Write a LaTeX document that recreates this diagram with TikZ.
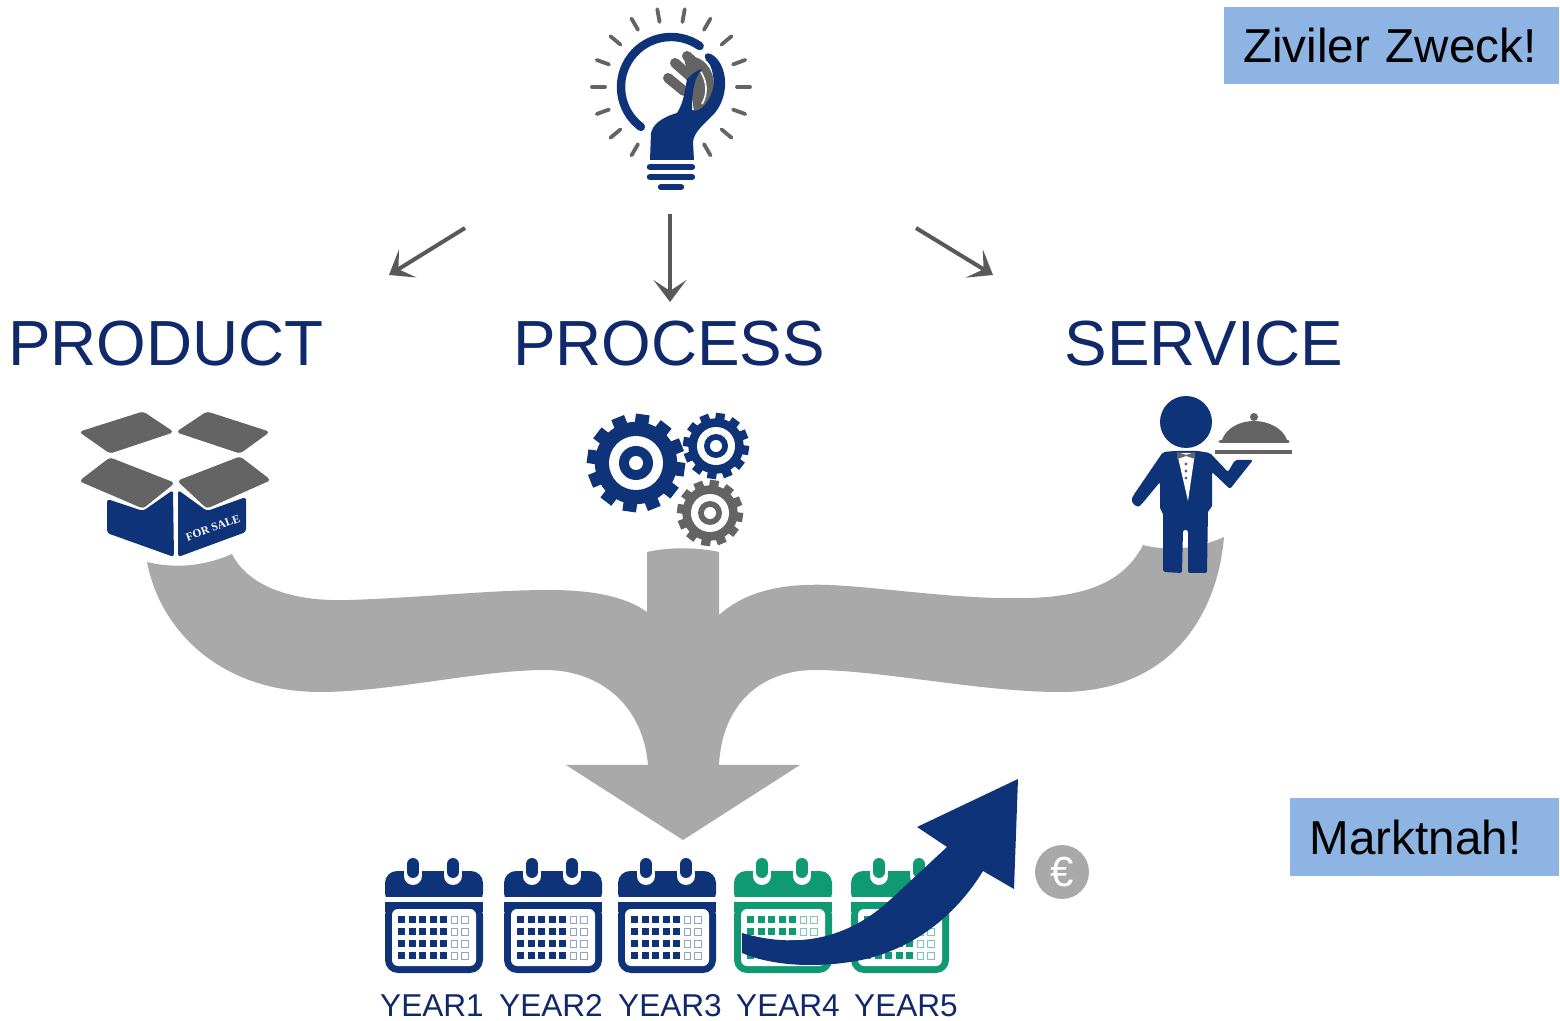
\documentclass[tikz,border=0pt]{standalone}
\usepackage{fontspec}
\setmainfont{Liberation Sans}
\newfontfamily\boxfont{Liberation Serif}
\usetikzlibrary{arrows.meta,calc}
\definecolor{navy}{HTML}{0F3379}
\definecolor{labelblue}{HTML}{10296B}
\definecolor{icongray}{HTML}{646464}
\definecolor{flowgray}{HTML}{A9A9A9}
\definecolor{calgreen}{HTML}{0F9A74}
\definecolor{notefill}{HTML}{8EB4E3}
\definecolor{arrowgray}{HTML}{595959}
\tikzset{
  bigword/.style={text=labelblue,font=\fontsize{31.9}{34}\selectfont,inner sep=0pt,anchor=base},
  yearword/.style={text=labelblue,font=\fontsize{15.8}{18}\selectfont,inner sep=0pt,anchor=base},
  notebox/.style={fill=notefill,text=black,font=\fontsize{23.8}{26}\selectfont,inner sep=0pt,anchor=north west,align=left},
  pointer/.style={draw=arrowgray,line width=2pt,-{Stealth[length=11pt,width=16.5pt,inset=5.5pt]}},
}
% gear: x, y, outer radius, annulus outer, annulus inner, hole, colour, teeth
\newcommand{\gearicon}[8]{%
  \fill[#7] (#1,#2) circle[radius=#3*0.84];
  \pgfmathsetmacro{\gstep}{360/#8}
  \foreach \k in {1,...,#8}{
    \draw[#7,line width=#3*0.14pt] ($(#1,#2)+(\k*\gstep+8:#3*0.7)$) -- ($(#1,#2)+(\k*\gstep+8:#3)$);
  }
  \fill[white] (#1,#2) circle[radius=#4];
  \fill[#7] (#1,#2) circle[radius=#5];
  \fill[white] (#1,#2) circle[radius=#6];
}
% calendar: left x, colour, hollow-square colour
\newcommand{\calicon}[3]{%
  \begin{scope}[shift={(#1,0)}]
    \fill[#2,rounded corners=6pt] (0,905) -- (0,871) -- (98,871) -- (98,905) -- cycle;
    \fill[white] (-1,897) rectangle (99,906);
    \foreach \rx in {28,68}{
      \draw[white,line width=9pt,line cap=round] (\rx,866) -- (\rx,876);
      \draw[#2,line width=6pt,line cap=round] (\rx,864) -- (\rx,872);
    }
    \fill[#2,rounded corners=6.5pt] (0,902) -- (98,902) -- (98,973) -- (0,973) -- cycle;
    \fill[#2] (0,902) rectangle (98,912);
    \fill[white,rounded corners=3pt] (7,909) -- (91,909) -- (91,966) -- (7,966) -- cycle;
    \foreach \r in {0,1,2,3}{
      \foreach \c in {0,...,4}{
        \fill[#2] ({13+\c*10.5},{916+\r*12}) rectangle +(7,7);
      }
      \foreach \c in {5,6}{
        \draw[#3,line width=0.5pt] ({13.5+\c*10.5},{916.5+\r*12}) rectangle +(6.5,6.5);
      }
    }
  \end{scope}
}
\begin{document}
\begin{tikzpicture}[x=0.5pt,y=-0.5pt]
\useasboundingbox (0,0) rectangle (1560,1021);
\fill[white] (0,0) rectangle (1560,1021);

% ---------- flow shape
\fill[flowgray] (147,562) .. controls (175,569) and (205,566) .. (232,554)
  .. controls (250,590) and (300,602) .. (350,600)
  .. controls (430,597) and (490,590) .. (550,590)
  .. controls (590,590) and (625,596) .. (647,612)
  -- (647,552) .. controls (670,547) and (696,547) .. (719,552)
  -- (719,615)
  .. controls (745,592) and (780,583) .. (830,585)
  .. controls (890,588) and (960,600) .. (1030,598)
  .. controls (1090,596) and (1125,580) .. (1143,545)
  .. controls (1170,552) and (1200,548) .. (1224,537)
  .. controls (1218,610) and (1175,692) .. (1060,692)
  .. controls (980,692) and (880,670) .. (815,670)
  .. controls (760,670) and (722,705) .. (719,765)
  -- (800,765) -- (683,840) -- (566,765) -- (648,765)
  .. controls (643,705) and (600,670) .. (545,670)
  .. controls (480,670) and (390,692) .. (320,692)
  .. controls (220,692) and (160,630) .. (147,562) -- cycle;

% ---------- light bulb
\foreach \a in {60,40,20,0,-20,-40,-60,-80,-100,-120,-140,-160,-180,-200,-220,-240}{
  \draw[icongray,line width=1.9pt,line cap=round] ($(671,87)+(\a:66)$) -- ($(671,87)+(\a:79)$);
}
\draw[navy,line width=4.2pt,line cap=round] ($(671,87)+(127:50)$) arc[start angle=127,end angle=305,radius=50];
\fill[icongray] (684,58) .. controls (700,52) and (716,68) .. (714,90)
  .. controls (713,100) and (705,110) .. (694,111) -- (690,85) -- cycle;
\draw[icongray,line width=5pt,line cap=round] (668,78) -- (684,91);
\draw[icongray,line width=5pt,line cap=round] (675,63) -- (692,78);
\draw[icongray,line width=5pt,line cap=round] (687,56) -- (704,72);
\draw[white,line width=0.8pt] (701,72) .. controls (707,82) and (708,94) .. (702,104);
\fill[navy] (650,160) -- (651,133) .. controls (653,125) and (660,118) .. (677,113)
  .. controls (684,102) and (685,90) .. (687,79)
  .. controls (692,74) and (697,70) .. (702,69)
  .. controls (694,78) and (692,92) .. (692,110)
  .. controls (700,114) and (712,100) .. (714,83)
  .. controls (713,72) and (711,64) .. (706,60)
  .. controls (703,55) and (706,52) .. (711,54)
  .. controls (722,60) and (726,75) .. (725,87)
  .. controls (724,100) and (718,110) .. (713,115)
  .. controls (704,124) and (694,132) .. (693,142) -- (694,160) -- cycle;
\draw[navy,line width=3.2pt,line cap=round] (650,167) -- (692,167);
\draw[navy,line width=3.2pt,line cap=round] (650,177) -- (692,177);
\draw[navy,line width=3.2pt,line cap=round] (661,187) -- (681,187);

% ---------- pointers
\coordinate (p1s) at (465,228); \coordinate (p1e) at (389,275);
\coordinate (p2s) at (670,214); \coordinate (p2e) at (670,302);
\coordinate (p3s) at (916,228); \coordinate (p3e) at (993,275);
\draw[pointer] (p1s) -- (p1e);
\draw[pointer] (p2s) -- (p2e);
\draw[pointer] (p3s) -- (p3e);

% ---------- headings
\node[bigword] (product) at (166,365.5) {PRODUCT};
\node[bigword] (process) at (669,365.5) {PROCESS};
\node[bigword] (service) at (1204,365.5) {SERVICE};

% ---------- box
\begin{scope}[rounded corners=1.5pt,draw=icongray,line width=0.5pt]
\filldraw[fill=icongray] (80,432) -- (143,412) -- (173,432) -- (110,453) -- cycle;
\filldraw[fill=icongray] (177,432) -- (207,412) -- (269,432) -- (240,453) -- cycle;
\filldraw[fill=icongray] (80,481) -- (110,458) -- (174,483) -- (143,508) -- cycle;
\filldraw[fill=icongray] (178,481) -- (240,457) -- (270,480) -- (207,508) -- cycle;
\fill[navy] (107,499) -- (143,511) -- (173,490) -- (174,557) -- (107,533) -- cycle;
\fill[navy] (178,490) -- (207,511) -- (246,497) -- (246,532) -- (178,557) -- cycle;
\end{scope}
\node[rotate=20,text=white,inner sep=0pt,font=\boxfont\bfseries\fontsize{5.7}{7}\selectfont] (forsale) at (213,528) {FOR SALE};

% ---------- gears
\gearicon{636}{463}{49}{27}{17}{7}{navy}{12}
\gearicon{716}{446}{33}{19}{12}{6}{navy}{12}
\gearicon{710}{513}{33}{19}{12}{6}{icongray}{12}

% ---------- waiter
\fill[navy] (1186,422) circle[radius=26];
\fill[navy,rounded corners=1pt] (1163,452) -- (1133,496) .. controls (1130,503) and (1137,508) .. (1141,505)
  -- (1160,482) -- (1160,510) -- (1163,512) -- (1163,572) -- (1182,573) -- (1183,530) -- (1188,530)
  -- (1188,573) -- (1207,573) -- (1208,510) -- (1212,508) -- (1212,472) -- (1230,489)
  -- (1253,460) -- (1235,460) -- (1228,472) -- (1210,453) -- (1198,451) -- (1175,451) -- cycle;
\fill[white] (1177,453) -- (1188,501) -- (1195,453) -- cycle;
\fill[icongray] (1177,452) -- (1186,455) -- (1195,452) -- (1195,459) -- (1186,456) -- (1177,459) -- cycle;
\foreach \by in {464,471,478}{ \fill[icongray] (1186,\by) circle[radius=1.7]; }
\fill[icongray] (1222,440) .. controls (1226,428) and (1240,421) .. (1254,421)
  .. controls (1268,421) and (1283,428) .. (1287,440) -- cycle;
\fill[icongray] (1254,417) circle[radius=4];
\draw[icongray,line width=1.5pt,line cap=round] (1220,442) -- (1288,442);
\draw[icongray,line width=2pt] (1215,452) -- (1292,452);

% ---------- calendars
\calicon{385}{navy}{navy!45!white}
\calicon{504}{navy}{navy!45!white}
\calicon{618}{navy}{navy!45!white}
\calicon{734}{calgreen}{calgreen!55!white}
\calicon{851}{calgreen}{calgreen!55!white}

% ---------- rising arrow
\fill[navy] (742,933) .. controls (800,950) and (850,937) .. (890,900)
  -- (947,847) -- (917,827) -- (1018,779) -- (1014,889) -- (983,871)
  .. controls (950,925) and (900,955) .. (850,962)
  .. controls (810,968) and (770,965) .. (742,953) -- cycle;

% ---------- euro
\node[circle,fill=flowgray,minimum size=27pt,inner sep=0pt,text=white,font=\fontsize{21}{22}\selectfont] (euro) at (1062,872) {€};

% ---------- year labels
\node[yearword] (y1) at (432,1016) {YEAR1};
\node[yearword] (y2) at (551,1016) {YEAR2};
\node[yearword] (y3) at (670,1016) {YEAR3};
\node[yearword] (y4) at (788,1016) {YEAR4};
\node[yearword] (y5) at (906,1016) {YEAR5};

% ---------- notes
\node[notebox,text width=167.5pt,minimum height=38.5pt] (civil) at (1224,7) {\hspace*{9.3pt}Ziviler Zweck!};
\node[notebox,text width=134.5pt,minimum height=39pt] (market) at (1290,798) {\hspace*{9.7pt}Marktnah!};
\end{tikzpicture}
\end{document}
